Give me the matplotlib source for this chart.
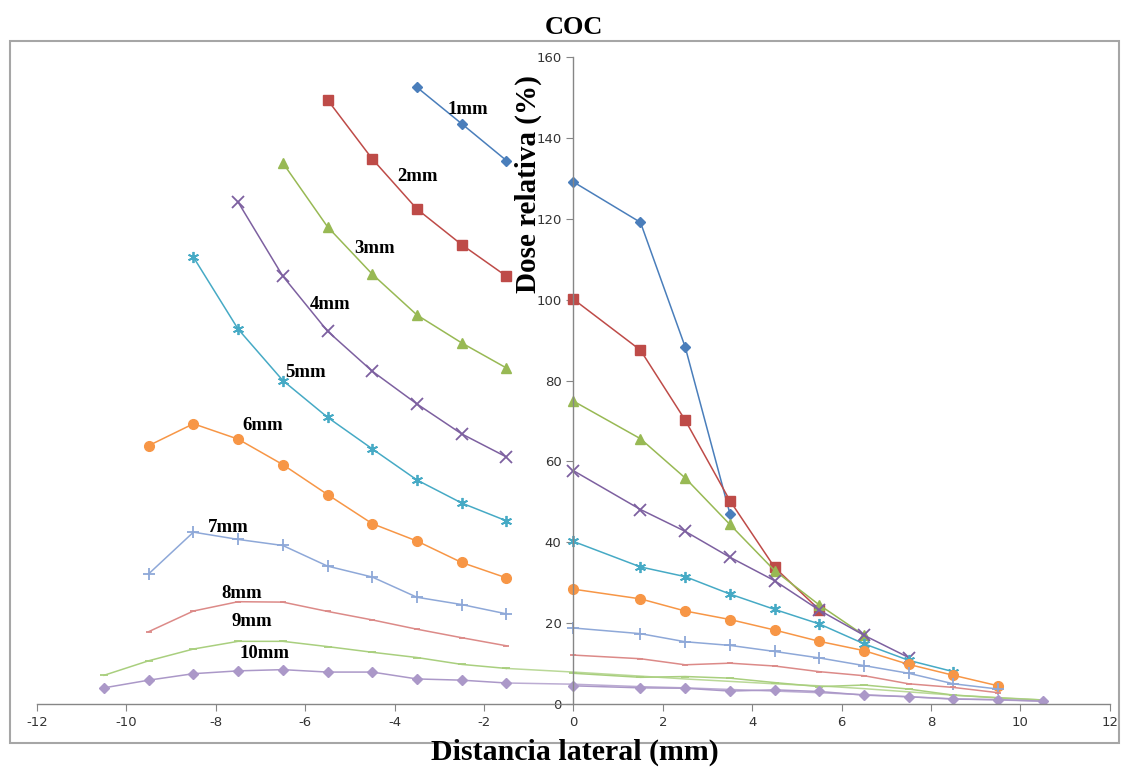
import matplotlib
matplotlib.use("Agg")
import matplotlib.pyplot as plt
from matplotlib.patches import Rectangle

plt.rcParams["axes.unicode_minus"] = False

# Lateral positions (mm)
x_left_short = [-3.5, -2.5, -1.5]
x_left_2 = [-5.5, -4.5, -3.5, -2.5, -1.5]
x_left_3 = [-6.5, -5.5, -4.5, -3.5, -2.5, -1.5]
x_left_4 = [-7.5, -6.5, -5.5, -4.5, -3.5, -2.5, -1.5]
x_left_5 = [-8.5, -7.5, -6.5, -5.5, -4.5, -3.5, -2.5, -1.5]
x_left_9 = [-9.5, -8.5, -7.5, -6.5, -5.5, -4.5, -3.5, -2.5, -1.5]
x_left_10 = [-10.5, -9.5, -8.5, -7.5, -6.5, -5.5, -4.5, -3.5, -2.5, -1.5]
x_right = [0, 1.5, 2.5, 3.5, 4.5, 5.5, 6.5, 7.5, 8.5, 9.5, 10.5]

# Relative dose (%) - left side
left_1mm = [152.5, 143.5, 134.4]
left_2mm = [149.4, 134.8, 122.4, 113.6, 105.8]
left_3mm = [133.8, 118.0, 106.3, 96.2, 89.3, 83.1]
left_4mm = [124.1, 105.8, 92.2, 82.3, 74.2, 66.8, 61.1]
left_5mm = [110.5, 92.7, 80.0, 70.9, 63.1, 55.4, 49.7, 45.3]
left_6mm = [63.9, 69.3, 65.5, 59.2, 51.8, 44.6, 40.3, 35.0, 31.2]
left_7mm = [32.2, 42.5, 40.7, 39.2, 34.1, 31.4, 26.4, 24.6, 22.3]
left_8mm = [17.9, 23.0, 25.3, 25.2, 22.9, 20.8, 18.5, 16.4, 14.4]
left_9mm = [7.1, 10.7, 13.6, 15.5, 15.5, 14.2, 12.8, 11.5, 9.8, 8.8]
left_10mm = [4.0, 5.9, 7.5, 8.2, 8.5, 7.9, 7.9, 6.2, 5.9, 5.2]

# Relative dose (%) - right side
right_1mm = [129.1, 119.1, 88.3, 47.1]
right_2mm = [100.1, 87.5, 70.2, 50.3, 33.8, 23.3]
right_3mm = [74.9, 65.6, 55.9, 44.4, 33.0, 24.5, 17.0]
right_4mm = [57.7, 48.1, 42.7, 36.3, 30.5, 23.2, 17.0, 11.5]
right_5mm = [40.2, 33.9, 31.5, 27.2, 23.4, 19.8, 14.9, 10.8, 8.0]
right_6mm = [28.4, 26.0, 23.0, 20.9, 18.3, 15.5, 13.2, 9.8, 7.1, 4.5]
right_7mm = [18.8, 17.4, 15.4, 14.5, 13.0, 11.4, 9.5, 7.6, 5.0, 3.7]
right_8mm = [12.1, 11.2, 9.7, 10.1, 9.4, 8.0, 7.0, 5.0, 4.1, 2.8]
right_9mm = [7.6, 6.6, 6.8, 6.4, 5.3, 4.3, 4.7, 3.7, 2.2, 1.5, 1.0]
right_10mm = [4.5, 4.0, 3.9, 3.2, 3.5, 3.1, 2.2, 1.8, 1.2, 1.1, 0.7]

# faint continuation of the left 9mm / 10mm traces across the axis
cont_9mm = [8.8, 7.9, 6.9, 6.2, 5.6, 5.0, 4.5, 3.8, 3.0, 2.2, 1.6, 1.0]
cont_10mm = [5.2, 4.9, 4.3, 4.0, 3.6, 3.2, 2.8, 2.3, 1.8, 1.3, 1.0, 0.7]

labels = ["1mm", "2mm", "3mm", "4mm", "5mm", "6mm", "7mm", "8mm", "9mm", "10mm"]
label_x = [-2.37, -3.49, -4.44, -5.45, -6.0, -6.94, -7.73, -7.43, -7.19, -6.9]
label_y = [147.1, 130.4, 112.7, 98.9, 82.1, 68.8, 43.6, 27.3, 20.5, 12.4]

colors = ["#4a7ebb", "#be4b48", "#98b954", "#7d60a0", "#46aac5", "#f79646",
          "#8ea8d8", "#dc8a88", "#a9cf7e", "#ab98c8"]
markers = ["D", "s", "^", "x", (6, 2, 0), "o", "+", "_", "_", "D"]
msizes = [5, 6.5, 7, 8, 8, 7, 8, 4, 6, 5.5]

left_x = [x_left_short, x_left_2, x_left_3, x_left_4, x_left_5,
          x_left_9, x_left_9, x_left_9, x_left_10, x_left_10]
left_y = [left_1mm, left_2mm, left_3mm, left_4mm, left_5mm,
          left_6mm, left_7mm, left_8mm, left_9mm, left_10mm]
right_y = [right_1mm, right_2mm, right_3mm, right_4mm, right_5mm,
           right_6mm, right_7mm, right_8mm, right_9mm, right_10mm]

fig = plt.figure(figsize=(11.27, 7.69), dpi=100)
ax = fig.add_axes([0.0328, 0.0845, 0.9520, 0.8414])

# continuation traces (drawn first, beneath)
ax.plot([-1.5] + x_right, cont_9mm, color=colors[8], lw=1.1, alpha=0.8)
ax.plot([-1.5] + x_right, cont_10mm, color=colors[9], lw=1.1, alpha=0.8)

for i in range(len(labels)):
    mew = 1.3 if markers[i] in ("x", "+", "_") or isinstance(markers[i], tuple) else 1
    kw = dict(color=colors[i], lw=1.1, marker=markers[i], markersize=msizes[i],
              markeredgewidth=mew)
    ax.plot(left_x[i], left_y[i], **kw)
    ax.plot(x_right[:len(right_y[i])], right_y[i], **kw)
    ax.text(label_x[i], label_y[i], labels[i], ha="center", va="center",
            fontsize=13.5, fontweight="bold", family="Liberation Serif")

ax.set_xlim(-12, 12)
ax.set_ylim(0, 160)
ax.set_xticks(range(-12, 13, 2))
ax.set_yticks(range(0, 161, 20))

ax.spines["left"].set_position(("data", 0))
ax.spines["bottom"].set_position(("data", 0))
ax.spines["top"].set_visible(False)
ax.spines["right"].set_visible(False)
for s in ("left", "bottom"):
    ax.spines[s].set_color("#868686")
    ax.spines[s].set_linewidth(1.0)
ax.tick_params(direction="out", length=5, color="#868686", labelsize=9.5,
               labelcolor="#333333")
ax.patch.set_alpha(0)

ax.text(-1.0, 128.6, "Dose relativa (%)", rotation=90, ha="center", va="center",
        fontsize=21, fontweight="bold", family="Liberation Serif")

fig.text(0.509, 0.964, "COC", ha="center", va="center", fontsize=19,
         fontweight="bold", family="Liberation Serif")
fig.text(0.51, 0.022, "Distancia lateral (mm)", ha="center", va="center",
         fontsize=21.5, fontweight="bold", family="Liberation Serif")

fig.patches.append(Rectangle((0.0089, 0.034), 0.984, 0.913, transform=fig.transFigure,
                             fill=False, edgecolor="#a6a6a6", lw=1.5, zorder=0))

fig.savefig("out.png", dpi=100)
